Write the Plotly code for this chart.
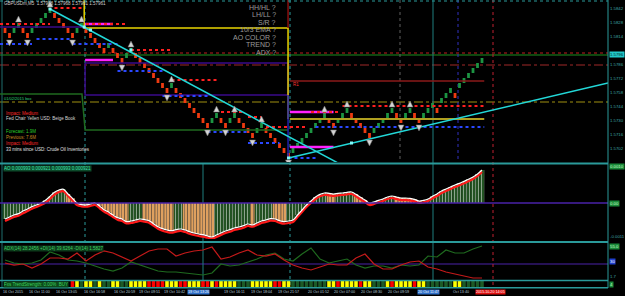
import plotly.graph_objects as go

W, H = 625, 296

# ---------------- data ----------------
BRICK = 0.0005
brick_low = [
    1.5817, 1.5812, 1.5817, 1.5822, 1.5817, 1.5812, 1.5817, 1.5822, 1.5827, 1.5832,
    1.5837, 1.5832, 1.5827, 1.5822, 1.5817, 1.5812, 1.5817, 1.5822, 1.5817, 1.5812,
    1.5807, 1.5802, 1.5797, 1.5802, 1.5797, 1.5792, 1.5787, 1.5792, 1.5797, 1.5792,
    1.5787, 1.5782, 1.5777, 1.5772, 1.5767, 1.5762, 1.5757, 1.5762, 1.5757, 1.5752,
    1.5747, 1.5742, 1.5737, 1.5732, 1.5727, 1.5722, 1.5727, 1.5732, 1.5727, 1.5722,
    1.5727, 1.5732, 1.5727, 1.5722, 1.5717, 1.5712, 1.5717, 1.5722, 1.5717, 1.5712,
    1.5707, 1.5702, 1.5697, 1.5692, 1.5697, 1.5702, 1.5707, 1.5712, 1.5717, 1.5722,
    1.5727, 1.5732, 1.5727, 1.5722, 1.5727, 1.5732, 1.5737, 1.5732, 1.5727, 1.5722,
    1.5717, 1.5712, 1.5717, 1.5722, 1.5727, 1.5732, 1.5737, 1.5732, 1.5727, 1.5732,
    1.5737, 1.5732, 1.5727, 1.5732, 1.5737, 1.5742, 1.5737, 1.5747, 1.5752, 1.5757,
    1.5752, 1.5762, 1.5767, 1.5772, 1.5777, 1.5782, 1.5787]
brick_dir = list("RRGGRRGGGG" "GRRRRRGGRR" "RRRGRRRGGR" "RRRRRRRGRR" "RRRRRRGGRR"
                 "GGRRRRGGRR" "RRRRGGGGGG" "GGRRGGGRRR" "RRGGGGGRRG" "GRRGGGRGGG" "RGGGGGG")

fractal_up = [3, 10, 17, 28, 37, 47, 51, 57, 71, 76, 86, 90]
fractal_dn = [1, 5, 15, 26, 36, 45, 49, 55, 63, 73, 81, 88, 92]

res_start = [-1.1, 11, 18, 28, 37, 48, 54, 58, 68, 75]
res_end = [10, 17, 27, 37, 47, 53, 57, 67, 74, 106.5]
res_level = [1.5826, 1.5842, 1.5826, 1.5800, 1.5770, 1.5738, 1.5733, 1.5723, 1.5738, 1.5744]
sup_start = [-1.1, 7, 15, 25, 35, 45, 54, 63, 69]
sup_end = [6, 15, 25, 35, 45, 54, 61, 69, 106.5]
sup_level = [1.5806, 1.5811, 1.5806, 1.5779, 1.5754, 1.5718, 1.5707, 1.5692, 1.5723]

pivot_level = [1.5797, 1.5795, 1.5785, 1.5748]
pivot_color = ['#c02020', '#1f8f1f', '#a02828', '#a09010']
pivot_dash = ['dot', 'solid', 'dashdot', 'dashdot']

mag_start = [17.8, 17.8, 63.3, 63.3]
mag_end = [24, 24, 73, 73]
mag_level = [1.5826, 1.5790, 1.5738, 1.5703]

yellow_x = [17.6, 17.6, 62.9, 62.9]
yellow_y = [1.5850, 1.5822, 1.5822, 1.5731]
olive_x = [63.3, 106.5]
olive_level = 1.5731
purple_box_x = [17.8, 62.9]
purple_box_y = [1.5787, 1.5755]
purple_left_level = 1.5823
green_box_x = [-1.1, 17.1, 17.8, 62.9]
green_box_y = [1.5756, 1.5756, 1.5720, 1.5720]
blue_v_y = [1.5755, 1.5693]
r1_level = 1.5769

trend1_x, trend1_y = [10, 74], [1.5841, 1.5687]
trend2_x, trend2_y = [63, 134], [1.5692, 1.5767]
anchor_x = [10, 17.6, 19, 28, 63, 77]
anchor_y = [1.5841, 1.5823, 1.5820, 1.5800, 1.5692, 1.5707]

current_price = 1.5796
price_ticks = [1.5842, 1.5828, 1.5814, 1.5786, 1.5772, 1.5758, 1.5744, 1.5730, 1.5716, 1.5702]

ao = [
    -0.00048, -0.00042, -0.00036, -0.00032, -0.00024, -0.00018, -0.00011, -0.00006, 0.00000, 0.00008,
    0.00020, 0.00032, 0.00039, 0.00041, 0.00027, 0.00014, 0.00000, -0.00005, -0.00006, -0.00003,
    0.00000, -0.00009, -0.00020, -0.00027, -0.00036, -0.00044, -0.00048, -0.00056, -0.00054, -0.00051,
    -0.00048, -0.00050, -0.00053, -0.00062, -0.00071, -0.00077, -0.00081, -0.00083, -0.00080, -0.00078,
    -0.00081, -0.00086, -0.00090, -0.00093, -0.00095, -0.00099, -0.00102, -0.00096, -0.00090, -0.00084,
    -0.00080, -0.00075, -0.00072, -0.00068, -0.00063, -0.00066, -0.00060, -0.00054, -0.00051, -0.00047,
    -0.00048, -0.00053, -0.00056, -0.00054, -0.00051, -0.00036, -0.00021, -0.00006, 0.00006, 0.00018,
    0.00026, 0.00030, 0.00029, 0.00027, 0.00029, 0.00030, 0.00032, 0.00033, 0.00026, 0.00017,
    0.00009, 0.00000, 0.00003, 0.00008, 0.00012, 0.00018, 0.00021, 0.00018, 0.00015, 0.00015,
    0.00014, 0.00011, 0.00006, 0.00008, 0.00012, 0.00020, 0.00027, 0.00036, 0.00042, 0.00048,
    0.00054, 0.00059, 0.00065, 0.00071, 0.00078, 0.00087, 0.00099]
ao_signal = [
    -0.00054, -0.00048, -0.00042, -0.00038, -0.00031, -0.00024, -0.00017, -0.00012, -0.00006, 0.00001,
    0.00012, 0.00025, 0.00033, 0.00035, 0.00022, 0.00008, -0.00006, -0.00010, -0.00011, -0.00009,
    -0.00006, -0.00015, -0.00026, -0.00033, -0.00042, -0.00050, -0.00054, -0.00061, -0.00060, -0.00057,
    -0.00054, -0.00056, -0.00059, -0.00068, -0.00077, -0.00083, -0.00087, -0.00089, -0.00086, -0.00084,
    -0.00087, -0.00092, -0.00096, -0.00099, -0.00101, -0.00104, -0.00107, -0.00102, -0.00096, -0.00090,
    -0.00086, -0.00081, -0.00078, -0.00074, -0.00069, -0.00071, -0.00066, -0.00060, -0.00057, -0.00053,
    -0.00054, -0.00059, -0.00062, -0.00060, -0.00057, -0.00042, -0.00027, -0.00012, 0.00000, 0.00012,
    0.00020, 0.00024, 0.00023, 0.00021, 0.00023, 0.00024, 0.00026, 0.00027, 0.00020, 0.00011,
    0.00003, -0.00006, -0.00003, 0.00002, 0.00006, 0.00012, 0.00015, 0.00012, 0.00009, 0.00009,
    0.00008, 0.00005, 0.00000, 0.00002, 0.00006, 0.00014, 0.00021, 0.00030, 0.00036, 0.00042,
    0.00048, 0.00053, 0.00059, 0.00065, 0.00072, 0.00081, 0.00093]

adx_idx = list(range(0, 107, 2))
di_red = [26.7, 23.3, 25.0, 18.3, 25.0, 35.0, 35.0, 33.3, 43.3, 30.0, 40.0, 46.7, 43.3, 36.7, 30.0,
          38.3, 46.7, 50.0, 50.0, 38.3, 43.3, 46.7, 48.3, 53.3, 33.3, 36.7, 43.3, 48.3, 40.0, 38.3,
          41.7, 31.7, 23.3, 18.3, 15.0, 20.0, 25.0, 23.3, 23.3, 35.0, 41.7, 25.0, 16.7, 16.7, 23.3,
          28.3, 30.0, 20.0, 16.7, 11.7, 8.3, 5.0, 1.7, 1.7]
di_green = [31.7, 26.7, 25.0, 26.7, 31.7, 45.0, 40.0, 31.7, 30.0, 26.7, 21.7, 16.7, 13.3, 18.3, 28.3,
            23.3, 18.3, 13.3, 11.7, 11.7, 10.0, 8.3, 6.7, 10.0, 25.0, 21.7, 23.3, 28.3, 33.3, 40.0,
            43.3, 33.3, 30.0, 41.7, 51.7, 33.3, 26.7, 30.0, 33.3, 23.3, 18.3, 21.7, 21.7, 18.3, 23.3,
            21.7, 23.3, 38.3, 36.7, 48.3, 43.3, 43.3, 50.0, 55.0]
adx_mid = 25
adx_level_box = 30

strip_idx = list(range(15, 107))
strip_state = list("RYGYYGYGGY" "YGGYYYYRRR" "RYYYRRYYYR" "RYRYYYYGGG" "YYYYYRRYYG"
                   "GGGGGGGYYR" "YYYYRYYGGG" "YRYYYYRYYG" "GGGGGYYGGG" "GG")

time_idx = [-0.6, 5.1, 11.1, 17.3, 24.0, 29.6, 35.1, 40.4, 48.4, 54.4, 60.4, 67.1, 72.9, 78.9,
            84.9, 91.6, 99.3, 104.4]
time_text = ["16 Oct 2015", "16 Oct 11:00", "16 Oct 13:05", "16 Oct 16:58", "16 Oct 20:59",
             "19 Oct 09:51", "19 Oct 10:42", "19 Oct 13:26", "19 Oct 16:11", "19 Oct 18:04",
             "19 Oct 21:57", "20 Oct 01:52", "20 Oct 07:00", "20 Oct 08:30", "20 Oct 09:59",
             "20 Oct 11:47", "Oct 13:40", "2015.10.20 14:05"]
time_box = {7: '#2f6fc8', 15: '#2f6fc8', 17: '#e01010'}

status_labels = ["HH/HL ?", "LH/LL ?", "S/R ?", "10/3 EMA ?", "AO COLOR ?", "TREND ?", "ADX ?"]
news_lines = [("Impact: Medium", '#ff2a2a'), ("Fed Chair Yellen USD: Beige Book", '#d8d8d8'),
              ("", '#000000'), ("Forecast: 1.9M", '#2ad02a'), ("Previous: 7.6M", '#c88a20'),
              ("Impact: Medium", '#ff2a2a'), ("33 mins since USD: Crude Oil Inventories", '#e0e0e0')]

# ---------------- layout helpers ----------------
PLOT_R = 608
def py(px):
    return 1 - px / H
def ix(px):
    return (px - 5) / 4.5

FONT = "Liberation Sans"
TEAL = '#2a9a9a'

fig = go.Figure()

def seg(xs0, xs1, levels, color, width, dash='solid', yaxis='y'):
    xs, ys = [], []
    for a, b, l in zip(xs0, xs1, levels):
        xs += [a, b, None]
        ys += [l, l, None]
    fig.add_trace(go.Scatter(x=xs, y=ys, mode='lines', xaxis='x', yaxis=yaxis,
                             line=dict(color=color, width=width, dash=dash),
                             hoverinfo='skip', showlegend=False))

def path(xs, ys, color, width, dash='solid', yaxis='y'):
    fig.add_trace(go.Scatter(x=xs, y=ys, mode='lines', xaxis='x', yaxis=yaxis,
                             line=dict(color=color, width=width, dash=dash),
                             hoverinfo='skip', showlegend=False))

# background structure lines (behind bricks)
path([-1.1, 17.6], [purple_left_level] * 2, '#3a0a8a', 1.5)
path([purple_box_x[0], purple_box_x[1], purple_box_x[1], purple_box_x[0], purple_box_x[0]],
     [purple_box_y[0], purple_box_y[0], purple_box_y[1], purple_box_y[1], purple_box_y[0]], '#3a0a8a', 1.5)
path(green_box_x, green_box_y, '#1f6a1f', 1.5)
path(yellow_x, yellow_y, '#e8d400', 1.5)
path([yellow_x[-1]] * 2, blue_v_y, '#2020b0', 1.5)
path([yellow_x[-1]] * 2, [yellow_y[0], yellow_y[1]], '#8b1010', 1.5)
path(olive_x, [olive_level] * 2, '#b0a020', 2)
path(olive_x, [r1_level] * 2, '#8b1a1a', 1.5)

# renko bricks
fig.add_trace(go.Bar(x=list(range(len(brick_low))), y=[BRICK] * len(brick_low), base=brick_low,
                     width=0.62, xaxis='x', yaxis='y',
                     marker=dict(color=['#1c9442' if d == 'G' else '#ee3a10' for d in brick_dir],
                                 line=dict(width=0)),
                     hoverinfo='skip', showlegend=False))

# support / resistance dotted
seg(mag_start, mag_end, mag_level, '#ff20ff', 2.5)
seg(res_start, res_end, res_level, '#ff2020', 2, 'dot')
seg(sup_start, sup_end, sup_level, '#2a48ff', 2, 'dot')

# trend lines
path(trend1_x, trend1_y, '#22d8d8', 1.5)
path(trend2_x, trend2_y, '#22d8d8', 1.5)
fig.add_trace(go.Scatter(x=anchor_x, y=anchor_y, mode='markers', xaxis='x', yaxis='y',
                         marker=dict(symbol='square', size=3, color='#7ffafa'),
                         hoverinfo='skip', showlegend=False))

# fractal arrows
fig.add_trace(go.Scatter(x=fractal_up, y=[brick_low[i] + BRICK + 0.0007 for i in fractal_up],
                         mode='markers', xaxis='x', yaxis='y',
                         marker=dict(symbol='arrow-up', size=6, color='#d4d4d4',
                                     line=dict(color='#707070', width=0.5)),
                         hoverinfo='skip', showlegend=False))
fig.add_trace(go.Scatter(x=fractal_dn, y=[brick_low[i] - 0.0008 for i in fractal_dn],
                         mode='markers', xaxis='x', yaxis='y',
                         marker=dict(symbol='arrow-down', size=6, color='#d4d4d4',
                                     line=dict(color='#707070', width=0.5)),
                         hoverinfo='skip', showlegend=False))

# ---------------- AO panel ----------------
ao_col = []
state = 'G'
for k, v in enumerate(ao):
    if k > 0:
        if v > ao[k - 1]:
            state = 'G'
        elif v < ao[k - 1]:
            state = 'O'
    ao_col.append(state)
fig.add_trace(go.Bar(x=list(range(len(ao))), y=ao, width=1.0, xaxis='x', yaxis='y2',
                     marker=dict(color=['#174a17' if c == 'G' else '#e6a460' for c in ao_col],
                                 line=dict(width=0),
                                 pattern=dict(shape='|', size=3, solidity=0.4, fillmode='overlay',
                                              fgcolor=['#3c8c3c' if c == 'G' else '#b86a28' for c in ao_col])),
                     hoverinfo='skip', showlegend=False))
fig.add_trace(go.Scatter(x=list(range(len(ao))), y=ao_signal, mode='lines', xaxis='x', yaxis='y2',
                         line=dict(color='#ff1a1a', width=2.2, shape='spline'),
                         hoverinfo='skip', showlegend=False))
fig.add_trace(go.Scatter(x=list(range(len(ao))), y=ao, mode='lines', xaxis='x', yaxis='y2',
                         line=dict(color='#ffffff', width=1.2, shape='spline'),
                         hoverinfo='skip', showlegend=False))

# ---------------- ADX panel ----------------
fig.add_trace(go.Scatter(x=adx_idx, y=di_green, mode='lines', xaxis='x', yaxis='y3',
                         line=dict(color='#1f6a1f', width=1.2), hoverinfo='skip', showlegend=False))
fig.add_trace(go.Scatter(x=adx_idx, y=di_red, mode='lines', xaxis='x', yaxis='y3',
                         line=dict(color='#c41a1a', width=1.2), hoverinfo='skip', showlegend=False))

# ---------------- status strip ----------------
strip_colors = {'Y': '#ffff00', 'R': '#ff0000', 'G': '#1c5a26'}
fig.add_trace(go.Bar(x=strip_idx, y=[1] * len(strip_idx), base=0, width=0.8, xaxis='x', yaxis='y4',
                     marker=dict(color=[strip_colors[s] for s in strip_state], line=dict(width=0)),
                     hoverinfo='skip', showlegend=False))

# ---------------- shapes ----------------
shapes = []
XR = PLOT_R / W
for lvl, col, dsh in zip(pivot_level, pivot_color, pivot_dash):
    shapes.append(dict(type='line', xref='paper', yref='y', x0=0, x1=XR, y0=lvl, y1=lvl,
                       line=dict(color=col, width=1.2, dash=dsh), layer='below'))
shapes.append(dict(type='line', xref='paper', yref='y2', x0=0, x1=XR, y0=0, y1=0,
                   line=dict(color='#4a22a8', width=1.5), layer='above'))
shapes.append(dict(type='line', xref='paper', yref='y3', x0=0, x1=XR, y0=adx_mid, y1=adx_mid,
                   line=dict(color='#4a22a8', width=1.2), layer='below'))
vlines = [(ix(2), 0, 288, '#1f6f6f', 'solid'), (ix(85), 0, 288, TEAL, 'dot'),
          (ix(290), 0, 288, TEAL, 'dot'), (ix(433), 0, 288, '#1f7f7f', 'solid'),
          (ix(493), 0, 288, '#c02030', 'dot'), (ix(458), 0, 162, '#3030c0', 'dot'),
          (ix(400), 0, 162, '#606060', 'dot'), (ix(203), 164, 280, '#1f7f7f', 'solid')]
for xv, a, b, col, dsh in vlines:
    shapes.append(dict(type='line', xref='x', yref='paper', x0=xv, x1=xv, y0=py(a), y1=py(b),
                       line=dict(color=col, width=1, dash=dsh), layer='below'))
for ypx, w, dsh in [(1, 1, 'dot'), (163.5, 2, 'solid'), (242, 2, 'solid'), (280.5, 1.5, 'solid'),
                    (287.8, 1.5, 'solid')]:
    shapes.append(dict(type='line', xref='paper', yref='paper', x0=0, x1=XR, y0=py(ypx), y1=py(ypx),
                       line=dict(color=TEAL, width=w, dash=dsh), layer='above'))
shapes.append(dict(type='line', xref='paper', yref='paper', x0=XR, x1=XR, y0=py(0), y1=py(288),
                   line=dict(color=TEAL, width=1), layer='above'))

# ---------------- annotations ----------------
ann = []
def txt(text, x, y, size, color, xanchor='left', xref='paper', yref='paper', bg=None, fam=FONT):
    d = dict(text=text, x=x, y=y, xref=xref, yref=yref, xanchor=xanchor, yanchor='middle',
             showarrow=False, font=dict(size=size, color=color, family=fam), borderpad=0)
    if bg:
        d['bgcolor'] = bg
    ann.append(d)

txt("GBPUSDm,M5  1.57968 1.57968 1.57961 1.57961", 3 / W, py(4), 4.5, '#d0d0d0')
for k, s in enumerate(status_labels):
    txt(s, 277 / W, py(7 + 7.6 * k), 7, '#9a9a9a', xanchor='right')
for k, (s, c) in enumerate(news_lines):
    if s:
        txt(s, 5 / W, py(113 + 6 * k), 4.5, c)
txt("01/02/2015 box", 3 / W, py(99), 4, '#2ad07a')
txt("R1", ix(292), r1_level - 0.0003, 4.5, '#ff3030', xref='x', yref='y')

txt("AO 0.000993 0.000921 0.000993 0.000921", 3 / W, py(168), 4.5, '#3fe0b0', bg='#0c4a2a')
txt("ADX(14) 28.2456 +DI(14) 39.6264 -DI(14) 1.5827", 3 / W, py(248), 4.5, '#3fd060', bg='#0c3a1a')
txt("Fxs TrendStrength: 0.00%  BUY", 3 / W, py(284), 4.5, '#3fd060', bg='#0c4a1a')

# right-side value boxes / labels
RX = (PLOT_R + 1) / W
RS = 4.3
for v in price_ticks:
    txt("%.4f" % v, RX, v, RS, '#3fa5a5', yref='y')
txt("%.4f" % current_price, RX, current_price, RS, '#002828', yref='y', bg='#22c8c8')
txt("%.4f" % ao[-1], RX, ao[-1] + 0.00010, RS, '#c8ffc8', yref='y2', bg='#1a8a3a')
txt("0.00", RX, 0, RS, '#c8ffc8', yref='y2', bg='#1a8a3a')
txt("-0.0011", RX, -0.00100, RS, '#3fa5a5', yref='y2')
txt("%.1f" % di_green[-1], RX, di_green[-1], RS, '#c8ffc8', yref='y3', bg='#1a8a3a')
txt("%.1f" % di_red[-1], RX, 4, RS, '#3fa5a5', yref='y3')
txt("%d" % adx_level_box, RX, adx_level_box, RS, '#ffffff', yref='y3', bg='#2040d0')
txt("4", RX, 0.5, RS, '#c8ffc8', yref='y4', bg='#1a8a3a')

for k, (xv, s) in enumerate(zip(time_idx, time_text)):
    bg = time_box.get(k)
    txt(s, xv, py(292), 3.7, '#ffffff' if bg else '#b8c8dc', xanchor='left', xref='x', bg=bg)

# ---------------- layout ----------------
fig.update_layout(
    width=W, height=H, margin=dict(l=0, r=0, t=0, b=0),
    paper_bgcolor='#000000', plot_bgcolor='#000000', barmode='overlay', showlegend=False,
    xaxis=dict(domain=[0, XR], range=[ix(0), ix(PLOT_R)], visible=False, fixedrange=True),
    yaxis=dict(domain=[py(162), 1], range=[1.5688, 1.5850], anchor='x', side='right',
               showticklabels=False, ticks='', showgrid=False,
               zeroline=False, showline=False, automargin=False, fixedrange=True),
    yaxis2=dict(domain=[py(239), py(164.5)], range=[-0.00108, 0.001155], anchor='x', side='right',
                showticklabels=False, showgrid=False, zeroline=False, fixedrange=True),
    yaxis3=dict(domain=[py(279), py(243)], range=[0, 60], anchor='x', side='right',
                showticklabels=False, showgrid=False, zeroline=False, fixedrange=True),
    yaxis4=dict(domain=[py(287), py(281)], range=[0, 1], anchor='x', side='right',
                showticklabels=False, showgrid=False, zeroline=False, fixedrange=True),
    shapes=shapes, annotations=ann,
)

fig.write_html("out.html", config={'displayModeBar': False})
